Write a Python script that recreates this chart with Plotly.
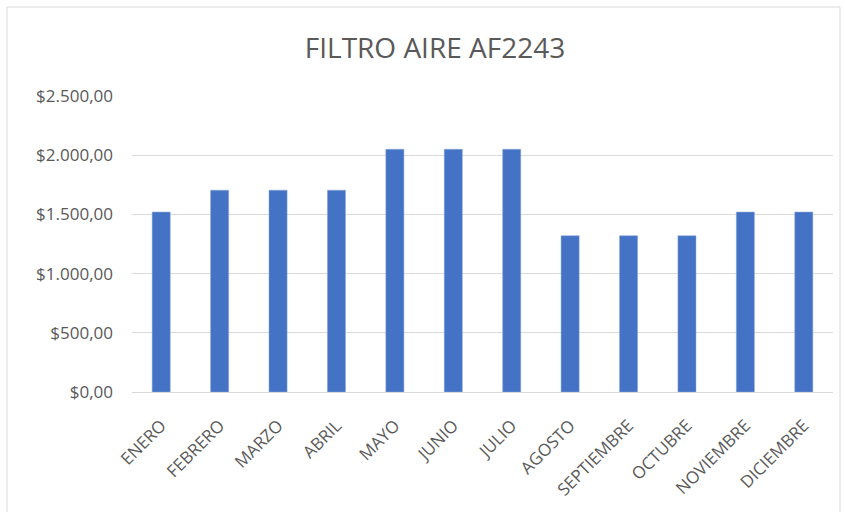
import plotly.graph_objects as go

months = ["ENERO", "FEBRERO", "MARZO", "ABRIL", "MAYO", "JUNIO", "JULIO",
          "AGOSTO", "SEPTIEMBRE", "OCTUBRE", "NOVIEMBRE", "DICIEMBRE"]
values = [1520, 1705, 1705, 1705, 2050, 2050, 2050, 1320, 1320, 1320, 1520, 1520]
tick_vals = [0, 500, 1000, 1500, 2000, 2500]
tick_text = ["$0,00", "$500,00", "$1.000,00", "$1.500,00", "$2.000,00", "$2.500,00"]

W, H = 845, 512
L, R, T, B = 132, 12, 96, 120
pw, ph = W - L - R, H - T - B

def px_x(x):
    return (x - L) / pw

def px_y(y):
    return (H - B - y) / ph

FONT = "Open Sans, sans-serif"

fig = go.Figure(go.Bar(x=months, y=values, marker=dict(color="#4472C4",
                                                       line=dict(color="#8FAADC", width=0.5))))
fig.update_layout(
    width=W, height=H,
    margin=dict(l=L, r=R, t=T, b=B),
    paper_bgcolor="white", plot_bgcolor="white",
    bargap=0.69,
    showlegend=False,
    font=dict(family=FONT, color="#595959", size=17),
    title=dict(text="FILTRO AIRE AF2243", xref="container", x=435 / W, xanchor="center",
               yref="container", y=1 - 48 / H,
               yanchor="middle", font=dict(size=28, color="#595959", family=FONT)),
    xaxis=dict(tickangle=-45, showgrid=False, showline=True, linecolor="#D9D9D9",
               linewidth=1, ticks="", automargin=False, ticklabelstandoff=16,
               tickfont=dict(size=17, color="#595959", family=FONT)),
    yaxis=dict(range=[0, 2500], tickvals=tick_vals, ticktext=tick_text,
               showgrid=True, gridcolor="#D9D9D9", gridwidth=1, zeroline=False,
               ticks="", ticklabelstandoff=18, automargin=False,
               tickfont=dict(size=17, color="#595959", family=FONT)),
    shapes=[dict(type="rect", xref="paper", yref="paper",
                 x0=px_x(7), x1=px_x(840), y0=px_y(520), y1=px_y(7),
                 line=dict(color="#D9D9D9", width=1), fillcolor="rgba(0,0,0,0)", layer="below")],
)
fig.write_html("out.html", post_script="document.body.style.margin='0';",
               config={"displayModeBar": False})
